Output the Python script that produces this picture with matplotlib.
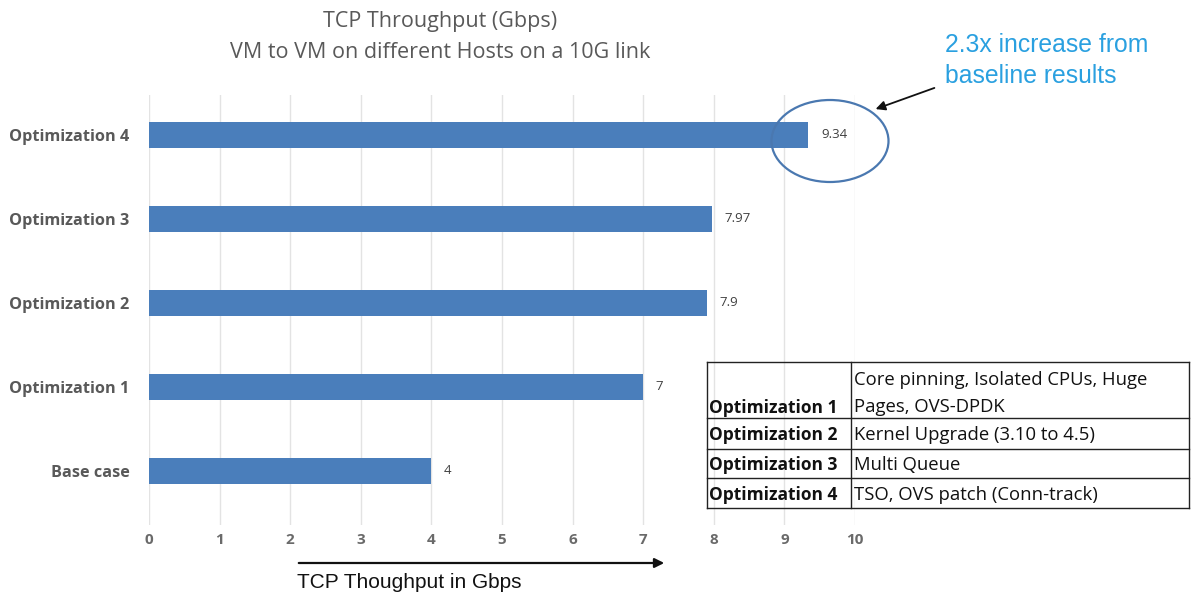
import matplotlib.pyplot as plt
from matplotlib.patches import Ellipse
from matplotlib.lines import Line2D

categories = ["Base case", "Optimization 1", "Optimization 2", "Optimization 3", "Optimization 4"]
throughput = [4, 7, 7.9, 7.97, 9.34]
value_labels = ["4", "7", "7.9", "7.97", "9.34"]
x_ticks = [0, 1, 2, 3, 4, 5, 6, 7, 8, 9, 10]

table_names = ["Optimization 1", "Optimization 2", "Optimization 3", "Optimization 4"]
table_desc = ["Core pinning, Isolated CPUs, Huge\nPages, OVS-DPDK",
              "Kernel Upgrade (3.10 to 4.5)",
              "Multi Queue",
              "TSO, OVS patch (Conn-track)"]

W, H = 1191, 597
fig = plt.figure(figsize=(W / 100, H / 100), dpi=100)
fig.patch.set_facecolor("white")

# axes placed in pixel terms: x 0..10 spans 149..855 px, y grid spans 95..525 px
ax_left, ax_right, ax_top, ax_bot = 149, 855, 95, 525
ax = fig.add_axes([ax_left / W, 1 - ax_bot / H, (ax_right - ax_left) / W, (ax_bot - ax_top) / H])

ypos = list(range(len(categories)))
ax.barh(ypos, throughput, height=0.31, color="#4a7ebb", zorder=3)
ax.set_xlim(0, 10)
ax.set_ylim(-0.643, 4.476)
ax.set_xticks(x_ticks)
ax.set_yticks(ypos)
ax.set_yticklabels(categories)
ax.grid(axis="x", color="#e3e3e3", linewidth=1, zorder=0)
for s in ax.spines.values():
    s.set_visible(False)
ax.tick_params(axis="both", length=0, colors="#595959")
ax.tick_params(axis="x", pad=6)
ax.tick_params(axis="y", pad=14)
for lbl in ax.get_xticklabels():
    lbl.set_fontfamily("Open Sans")
    lbl.set_fontsize(11)
    lbl.set_fontweight("bold")
    lbl.set_color("#6a6a6a")
for lbl in ax.get_yticklabels():
    lbl.set_fontfamily("Open Sans")
    lbl.set_fontsize(11.7)
    lbl.set_fontweight("bold")

for y, v, t in zip(ypos, throughput, value_labels):
    ax.annotate(t, (v, y), xytext=(9, 0), textcoords="offset points",
                va="center", ha="left", fontsize=9.5, color="#404040",
                family="Open Sans")

def fx(px):
    return px / W

def fy(py):
    return 1 - py / H

# title
fig.text(fx(440), fy(21), "TCP Throughput (Gbps)", ha="center", va="center",
         fontsize=15.5, color="#595959", family="Open Sans")
fig.text(fx(440), fy(53), "VM to VM on different Hosts on a 10G link", ha="center", va="center",
         fontsize=15.5, color="#595959", family="Open Sans")

# callout
fig.text(fx(945), fy(45), "2.3x increase from", ha="left", va="center",
         fontsize=17.8, color="#2aa0e0", family="Liberation Sans")
fig.text(fx(945), fy(76), "baseline results", ha="left", va="center",
         fontsize=17.8, color="#2aa0e0", family="Liberation Sans")
fig.add_artist(plt.Annotation("", xy=(fx(873), fy(110)), xytext=(fx(937), fy(87)),
                              xycoords="figure fraction", textcoords="figure fraction",
                              arrowprops=dict(arrowstyle="-|>", color="#111111", lw=1.3,
                                              mutation_scale=14)))
ell = Ellipse((fx(830), fy(141)), width=117 / W, height=82 / H, transform=fig.transFigure,
              fill=False, edgecolor="#4a78b0", linewidth=1.6, zorder=5)
fig.add_artist(ell)

# x-axis direction arrow and caption
fig.add_artist(plt.Annotation("", xy=(fx(667), fy(563)), xytext=(fx(296), fy(563)),
                              xycoords="figure fraction", textcoords="figure fraction",
                              arrowprops=dict(arrowstyle="-|>", color="#111111", lw=1.6,
                                              mutation_scale=14)))
fig.text(fx(297), fy(582), "TCP Thoughput in Gbps", ha="left", va="center",
         fontsize=15, color="#111111", family="Liberation Sans")

# optimization legend table
tx0, tx1, tx2 = 707, 851, 1189
row_lines = [362, 418, 449, 478, 508]
for py in row_lines:
    fig.add_artist(Line2D([fx(tx0), fx(tx2)], [fy(py), fy(py)], color="#222222", lw=1,
                          transform=fig.transFigure))
for px in (tx0, tx1, tx2):
    fig.add_artist(Line2D([fx(px), fx(px)], [fy(row_lines[0]), fy(row_lines[-1])],
                          color="#222222", lw=1, transform=fig.transFigure))

name_y = [408, 435, 465, 495]
for i, (n, d) in enumerate(zip(table_names, table_desc)):
    fig.text(fx(709), fy(name_y[i]), n, ha="left", va="center", fontsize=12.5,
             fontweight="bold", color="#111111", family="Open Sans")
    if "\n" in d:
        l1, l2 = d.split("\n")
        fig.text(fx(854), fy(380), l1, ha="left", va="center", fontsize=13.3,
                 color="#111111", family="Open Sans")
        fig.text(fx(854), fy(407), l2, ha="left", va="center", fontsize=13.3,
                 color="#111111", family="Open Sans")
    else:
        fig.text(fx(854), fy(name_y[i]), d, ha="left", va="center", fontsize=13.3,
                 color="#111111", family="Open Sans")

fig.savefig("out.png", dpi=100, facecolor="white")
